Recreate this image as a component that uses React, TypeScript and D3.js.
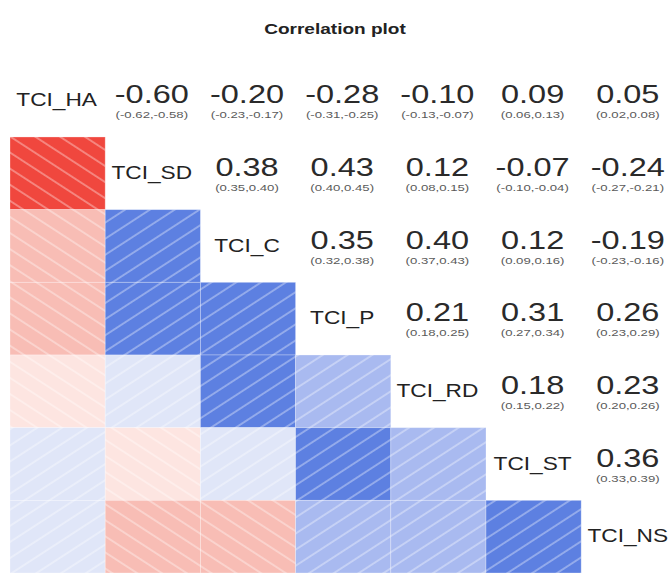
import { useEffect, useRef } from 'react';
import * as d3 from 'd3';

const variables = ['TCI_HA', 'TCI_SD', 'TCI_C', 'TCI_P', 'TCI_RD', 'TCI_ST', 'TCI_NS'];

// upper triangle, row i holds correlations with variables i+1 ... n-1
const corRows = [
  [-0.60, -0.20, -0.28, -0.10, 0.09, 0.05],
  [0.38, 0.43, 0.12, -0.07, -0.24],
  [0.35, 0.40, 0.12, -0.19],
  [0.21, 0.31, 0.26],
  [0.18, 0.23],
  [0.36],
];

const ciLower = [
  [-0.62, -0.23, -0.31, -0.13, 0.06, 0.02],
  [0.35, 0.40, 0.08, -0.10, -0.27],
  [0.32, 0.37, 0.09, -0.23],
  [0.18, 0.27, 0.23],
  [0.15, 0.20],
  [0.33],
];

const ciUpper = [
  [-0.58, -0.17, -0.25, -0.07, 0.13, 0.08],
  [0.40, 0.45, 0.15, -0.04, -0.21],
  [0.38, 0.43, 0.16, -0.16],
  [0.25, 0.34, 0.29],
  [0.22, 0.26],
  [0.39],
];

const colorBreaks = [-0.5, -0.15, 0, 0.15, 0.3];
const colorSteps = ['#f0473e', '#f8bdb5', '#fde5e1', '#e0e6f8', '#a9baf0', '#5d80e1'];

const FONT = "'Liberation Sans', Arial, sans-serif";

function CorrelationPlot() {
  const svgRef = useRef(null);

  useEffect(() => {
    const width = 669;
    const height = 574;
    const svg = d3.select(svgRef.current);
    svg.selectAll('*').remove();
    svg.attr('width', width).attr('height', height);

    svg.append('rect').attr('width', width).attr('height', height).attr('fill', '#ffffff');

    const n = variables.length;
    const x = d3.scaleBand().domain(variables).range([10, 10 + n * 95.2]);
    const y = d3.scaleBand().domain(variables).range([64.3, 573]);
    const color = d3.scaleThreshold().domain(colorBreaks).range(colorSteps);

    // hatch patterns: "/" for positive, "\" for negative
    const defs = svg.append('defs');
    [['hatch-pos', -33], ['hatch-neg', 33]].forEach(([id, angle]) => {
      const p = defs.append('pattern')
        .attr('id', id)
        .attr('patternUnits', 'userSpaceOnUse')
        .attr('width', 20)
        .attr('height', 13.5)
        .attr('patternTransform', `rotate(${angle})`);
      p.append('line')
        .attr('x1', 0).attr('x2', 20)
        .attr('y1', 1).attr('y2', 1)
        .attr('stroke', '#ffffff')
        .attr('stroke-opacity', 0.38)
        .attr('stroke-width', 1.7);
    });

    // flatten into cells
    const cells = [];
    corRows.forEach((row, i) => {
      row.forEach((r, k) => {
        const j = i + 1 + k;
        cells.push({ a: variables[i], b: variables[j], r, lo: ciLower[i][k], hi: ciUpper[i][k] });
      });
    });

    // lower triangle tiles (row = later variable, column = earlier variable)
    const tiles = svg.append('g');
    tiles.selectAll('rect.tile')
      .data(cells)
      .enter()
      .append('rect')
      .attr('class', 'tile')
      .attr('x', d => x(d.a))
      .attr('y', d => y(d.b))
      .attr('width', x.bandwidth())
      .attr('height', y.bandwidth())
      .attr('fill', d => color(d.r))
      .attr('stroke', '#ffffff')
      .attr('stroke-opacity', 0.35)
      .attr('stroke-width', 0.8);

    tiles.selectAll('rect.hatch')
      .data(cells)
      .enter()
      .append('rect')
      .attr('class', 'hatch')
      .attr('x', d => x(d.a))
      .attr('y', d => y(d.b))
      .attr('width', x.bandwidth())
      .attr('height', y.bandwidth())
      .attr('fill', d => (d.r < 0 ? 'url(#hatch-neg)' : 'url(#hatch-pos)'));

    const fmt = v => v.toFixed(2);

    // upper triangle: estimate + CI
    const nums = svg.append('g').attr('font-family', FONT).attr('text-anchor', 'middle');
    nums.selectAll('text.val')
      .data(cells)
      .enter()
      .append('text')
      .attr('class', 'val')
      .attr('transform', d => `translate(${x(d.b) + x.bandwidth() / 2 - 1},${y(d.a) + 39}) scale(1.3,1)`)
      .attr('font-size', 25)
      .attr('fill', '#2a2a2a')
      .text(d => fmt(d.r));

    nums.selectAll('text.ci')
      .data(cells)
      .enter()
      .append('text')
      .attr('class', 'ci')
      .attr('transform', d => `translate(${x(d.b) + x.bandwidth() / 2 - 1},${y(d.a) + 54}) scale(1.55,1)`)
      .attr('font-size', 8.5)
      .attr('fill', '#5a5a5a')
      .text(d => `(${fmt(d.lo)},${fmt(d.hi)})`);

    // diagonal labels
    svg.append('g')
      .attr('font-family', FONT)
      .attr('text-anchor', 'middle')
      .selectAll('text')
      .data(variables)
      .enter()
      .append('text')
      .attr('transform', d => `translate(${x(d) + x.bandwidth() / 2 - 1},${y(d) + 42}) scale(1.26,1)`)
      .attr('font-size', 18)
      .attr('fill', '#222222')
      .text(d => d);

    // title
    svg.append('text')
      .attr('transform', `translate(335,34) scale(1.27,1)`)
      .attr('text-anchor', 'middle')
      .attr('font-family', FONT)
      .attr('font-weight', 'bold')
      .attr('font-size', 15)
      .attr('fill', '#222222')
      .text('Correlation plot');
  }, []);

  return (
    <svg ref={svgRef} style={{ position: 'absolute', left: 0, top: 0, display: 'block' }}></svg>
  );
}

export default function App() {
  return <CorrelationPlot />;
}
